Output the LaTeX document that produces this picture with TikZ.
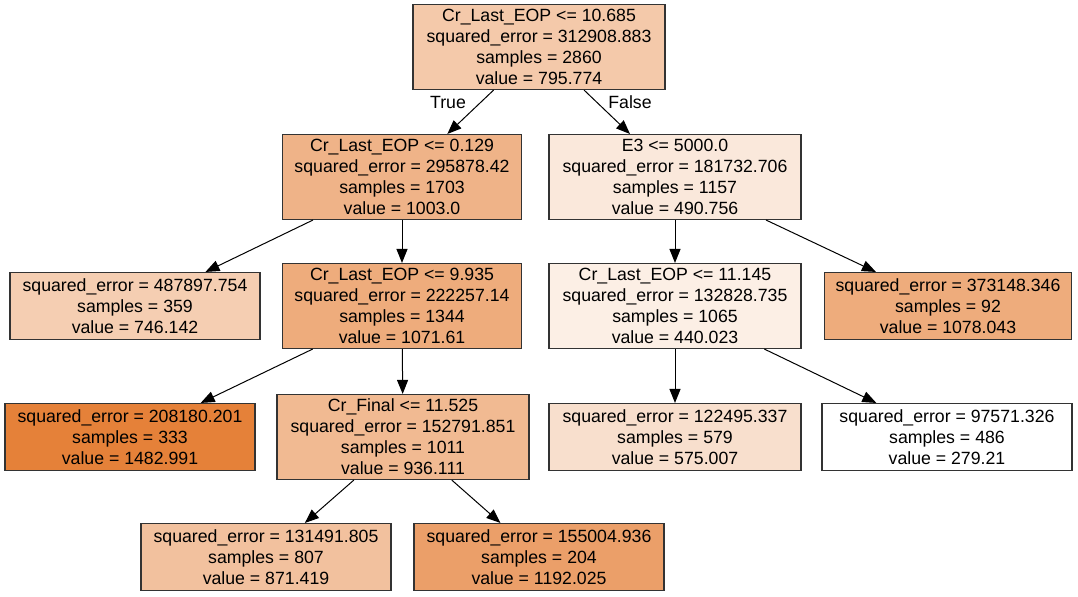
\documentclass[tikz,border=0pt]{standalone}
\usepackage{fontspec}
\setmainfont{Liberation Sans}
\usetikzlibrary{arrows.meta}
\definecolor{treeorange}{HTML}{E58139}

\begin{document}
\begin{tikzpicture}[x=0.5pt,y=-0.5pt,
    box/.style={draw=black!80, line width=0.55pt, align=center, inner sep=0pt,
      font=\fontsize{8.85}{10.5}\selectfont},
    splitnode/.style={box, minimum width=126pt, minimum height=42.5pt},
    leafnode/.style={box, minimum width=125pt, minimum height=33.5pt},
    edge/.style={-{Triangle[length=7pt,width=5.5pt]}, line width=0.5pt}]
  \useasboundingbox (0,0) rectangle (1078,596);

  % level 0
  \node[splitnode, fill=treeorange!43] (root) at (539,47)
    {Cr\_Last\_EOP <= 10.685\\squared\_error = 312908.883\\samples = 2860\\value = 795.774};
  % level 1
  \node[splitnode, minimum width=119.5pt, fill=treeorange!60] (n1) at (402,177)
    {Cr\_Last\_EOP <= 0.129\\squared\_error = 295878.42\\samples = 1703\\value = 1003.0};
  \node[splitnode, fill=treeorange!18] (n2) at (675,177)
    {E3 <= 5000.0\\squared\_error = 181732.706\\samples = 1157\\value = 490.756};
  % level 2
  \node[leafnode, fill=treeorange!39] (l1) at (135,306)
    {squared\_error = 487897.754\\samples = 359\\value = 746.142};
  \node[splitnode, minimum width=119.5pt, fill=treeorange!66] (n3) at (402,306)
    {Cr\_Last\_EOP <= 9.935\\squared\_error = 222257.14\\samples = 1344\\value = 1071.61};
  \node[splitnode, fill=treeorange!13] (n4) at (675,306)
    {Cr\_Last\_EOP <= 11.145\\squared\_error = 132828.735\\samples = 1065\\value = 440.023};
  \node[leafnode, minimum width=123.5pt, fill=treeorange!66] (l2) at (948,306)
    {squared\_error = 373148.346\\samples = 92\\value = 1078.043};
  % level 3
  \node[leafnode, fill=treeorange] (l3) at (130,437)
    {squared\_error = 208180.201\\samples = 333\\value = 1482.991};
  \node[splitnode, fill=treeorange!55] (n5) at (403,437)
    {Cr\_Final <= 11.525\\squared\_error = 152791.851\\samples = 1011\\value = 936.111};
  \node[leafnode, minimum width=126pt, fill=treeorange!25] (l4) at (675,437)
    {squared\_error = 122495.337\\samples = 579\\value = 575.007};
  \node[leafnode, fill=white] (l5) at (947,437)
    {squared\_error = 97571.326\\samples = 486\\value = 279.21};
  % level 4
  \node[leafnode, fill=treeorange!49] (l6) at (266,557)
    {squared\_error = 131491.805\\samples = 807\\value = 871.419};
  \node[leafnode, fill=treeorange!76] (l7) at (539,557)
    {squared\_error = 155004.936\\samples = 204\\value = 1192.025};

  \foreach \a/\b in {root/n1, root/n2, n1/l1, n1/n3, n2/n4, n2/l2,
                     n3/l3, n3/n5, n4/l4, n4/l5, n5/l6, n5/l7} {
    \draw[edge] (\a) -- (\b);
  }

  \node[font=\fontsize{8.85}{10.5}\selectfont] (truelbl) at (448,102) {True};
  \node[font=\fontsize{8.85}{10.5}\selectfont] (falselbl) at (630,102) {False};
\end{tikzpicture}
\end{document}
